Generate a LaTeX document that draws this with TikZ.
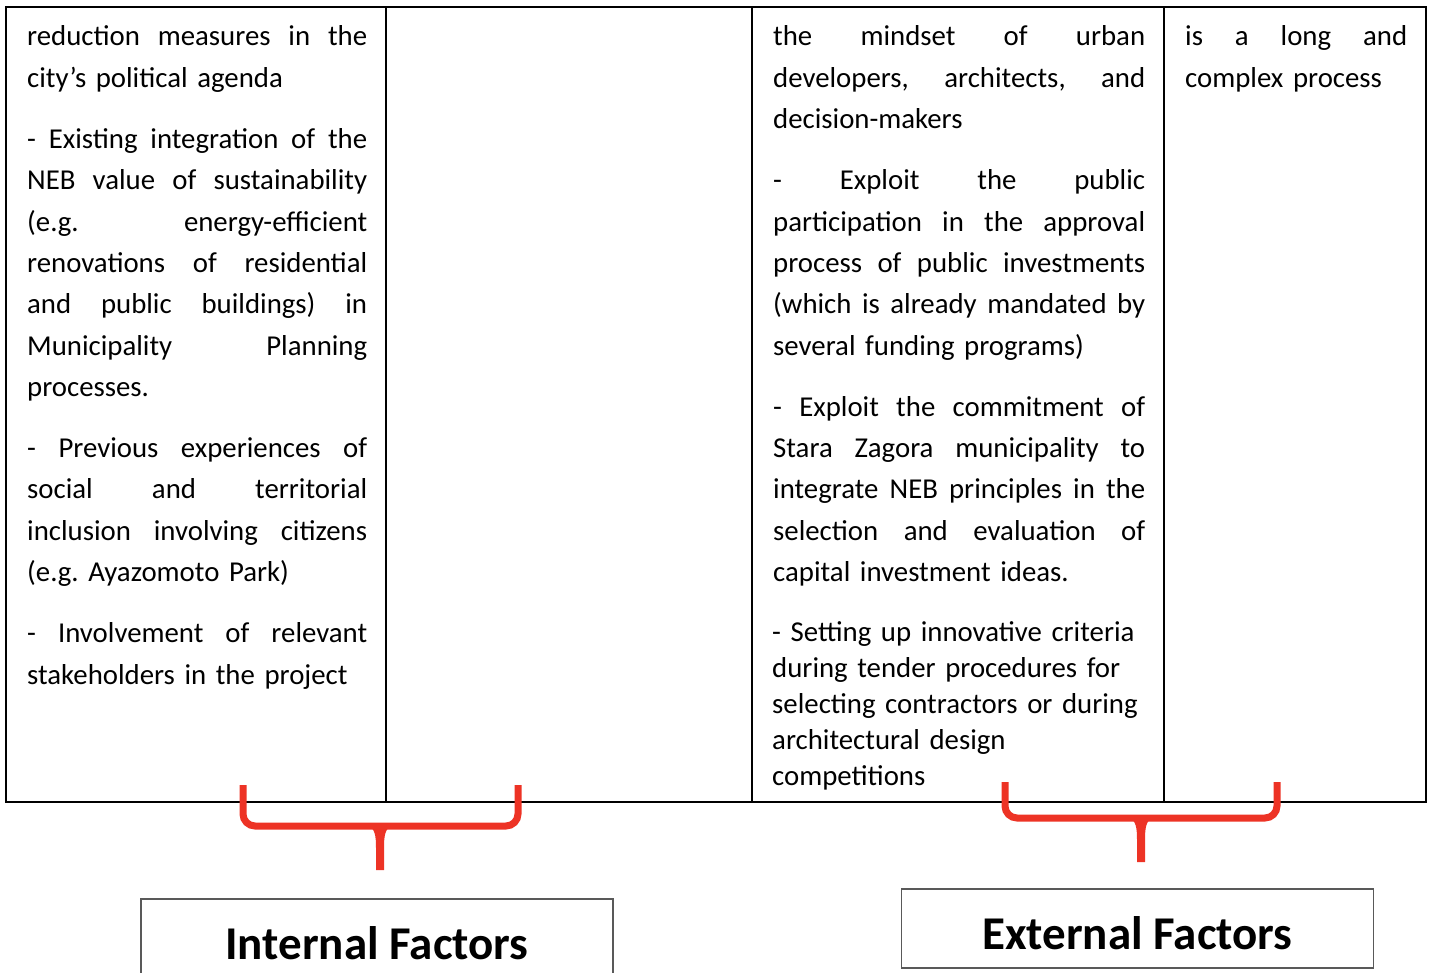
\documentclass[tikz,border=0pt]{standalone}
\usepackage{fontspec}
\setmainfont{Carlito}
\usetikzlibrary{positioning}
\definecolor{bracered}{RGB}{237,51,37}
\frenchspacing
\newlength\colw
\newcommand\jl[1]{\leavevmode\hbox to \colw{\spaceskip=0.226em plus 1fil\relax
  \xspaceskip=\spaceskip #1}}

\begin{document}
\begin{tikzpicture}[x=1pt,y=-1pt,
    cell/.style={anchor=base west,inner sep=0pt,align=left,
      font=\fontsize{28.8}{41.3}\selectfont},
    rule/.style={draw=black,line width=2.6pt},
    factorbox/.style={draw=black!65,line width=1.3pt,
      minimum width=472pt,minimum height=79pt,inner sep=0pt,
      font=\fontsize{47}{52}\selectfont\bfseries,text height=42pt,text depth=0pt},
    brace/.style={draw=bracered,line width=7pt,rounded corners=12pt}
  ]
    \useasboundingbox (0,0) rectangle (1435,973);
    % table frame and column rules
    \draw[rule] (6,7) rectangle (1426,802);
    \foreach \xc in {386,752,1164}
      \draw[rule,line width=2.2pt] (\xc,7) -- (\xc,802);

    % first column
    \node[cell,text width=340pt] (colone) at (27,46) {\setlength\colw{340pt}%
      \jl{reduction measures in the}\\
      city’s political agenda\\[20pt]
      \jl{- Existing integration of the}\\
      \jl{NEB value of sustainability}\\
      \jl{(e.g. energy-efficient}\\
      \jl{renovations of residential}\\
      \jl{and public buildings) in}\\
      \jl{Municipality Planning}\\
      processes.\\[20pt]
      \jl{- Previous experiences of}\\
      \jl{social and territorial}\\
      \jl{inclusion involving citizens}\\
      (e.g. Ayazomoto Park)\\[20pt]
      \jl{- Involvement of relevant}\\
      stakeholders in the project};

    % third column
    \node[cell,text width=372pt] (colthree) at (773,46) {\setlength\colw{372pt}%
      \jl{the mindset of urban}\\
      \jl{developers, architects, and}\\
      decision-makers\\[20pt]
      \jl{- Exploit the public}\\
      \jl{participation in the approval}\\
      \jl{process of public investments}\\
      \jl{(which is already mandated by}\\
      several funding programs)\\[20pt]
      \jl{- Exploit the commitment of}\\
      \jl{Stara Zagora municipality to}\\
      \jl{integrate NEB principles in the}\\
      \jl{selection and evaluation of}\\
      capital investment ideas.};
    \node[cell,text width=372pt,font=\fontsize{28.8}{36}\selectfont]
      (criteria) at (772,641) {%
      - Setting up innovative criteria\\
      during tender procedures for\\
      selecting contractors or during\\
      architectural design\\
      competitions};

    % fourth column
    \node[cell,text width=222pt] (colfour) at (1185,46) {\setlength\colw{222pt}%
      \jl{is a long and}\\
      complex process};

    % braces
    \foreach \xl/\xm/\xr/\yt/\yh/\yb in {243/380/518/785/826/870,1005/1141/1277/782/818/862}{
      \draw[brace] (\xl,\yt) -- (\xl,\yh) -- (\xr,\yh) -- (\xr,\yt);
      \fill[bracered] (\xm-12,\yh) .. controls (\xm-5,\yh+2) and (\xm-4,\yh+10) .. (\xm-4,\yh+22)
        -- (\xm-4,\yb) -- (\xm+4,\yb) -- (\xm+4,\yh+22)
        .. controls (\xm+4,\yh+10) and (\xm+5,\yh+2) .. (\xm+12,\yh) -- cycle;
    }

    % factor boxes
    \node[factorbox] (internal) at (377,938.5) {Internal Factors};
    \node[factorbox] (external) at (1137.5,928.5) {External Factors};
  \end{tikzpicture}
\end{document}
